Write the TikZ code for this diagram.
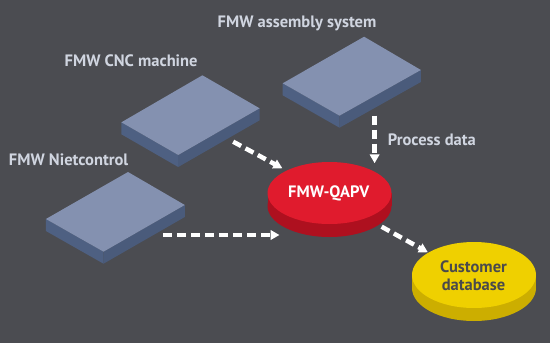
\documentclass[tikz,border=0pt]{standalone}
\usepackage{fontspec}
\setmainfont{PT Sans}
\usetikzlibrary{shapes.geometric,arrows.meta}
\definecolor{bg}{HTML}{4B4C51}
\definecolor{boxtop}{HTML}{8491B0}
\definecolor{boxside}{HTML}{4E6082}
\definecolor{boxside2}{HTML}{4A5B7B}
\definecolor{qred}{HTML}{E01B2D}
\definecolor{qredside}{HTML}{AE101F}
\definecolor{qyel}{HTML}{EFD000}
\definecolor{qyelside}{HTML}{CCAE00}
\definecolor{lbl}{HTML}{D0D5E0}
\definecolor{dbtext}{HTML}{4A4A4C}
\tikzset{
  lab/.style={text=lbl, font=\fontsize{16.5}{18}\selectfont\bfseries, inner sep=0pt, anchor=base west},
  flow/.style={draw=white, line width=4.5pt, dash pattern=on 9pt off 5pt,
    -{Triangle[length=9pt,width=9.5pt]}},
  disc/.style={ellipse, inner sep=0pt, minimum width=124pt, minimum height=62pt, align=center}
}
\newcommand{\drawslab}[5]{%
  \coordinate (#1-t) at #2;
  \coordinate (#1-r) at #3;
  \coordinate (#1-b) at #4;
  \coordinate (#1-l) at #5;
  \fill[boxside] (#1-l) -- (#1-b) -- ([yshift=-12pt]#1-b) -- ([yshift=-12pt]#1-l) -- cycle;
  \fill[boxside2] (#1-b) -- (#1-r) -- ([yshift=-12pt]#1-r) -- ([yshift=-12pt]#1-b) -- cycle;
  \fill[boxtop] (#1-t) -- (#1-r) -- (#1-b) -- (#1-l) -- cycle;
}
\begin{document}
\begin{tikzpicture}[x=1pt,y=-1pt]
\fill[bg] (0,0) rectangle (550,343);
\useasboundingbox (0,0) rectangle (550,343);

% slabs
\drawslab{asm}{(364.1,36.7)}{(420.9,70)}{(339.5,115.7)}{(282.7,83.3)}
\drawslab{cnc}{(202.4,75.3)}{(259.6,108.3)}{(178.2,155)}{(121.4,122.3)}
\drawslab{niet}{(128,172)}{(184.8,205)}{(103.5,251.7)}{(45.9,219)}

% labels
\node[lab] (lasm) at (217.5,27.7) {FMW assembly system};
\node[lab] (lcnc) at (64.5,66) {FMW CNC machine};
\node[lab] (lniet) at (8.8,165.3) {FMW Nietcontrol};
\node[lab] (lproc) at (387.6,145) {Process data};

% red disc
\fill[qredside] (329.5,206) ellipse [x radius=62pt, y radius=31pt];
\fill[qredside] (267.5,193) rectangle (391.5,206);
\node[disc, fill=qred] (qapv) at (329.5,193) {};
\node[text=white, font=\fontsize{16.5}{18}\selectfont\bfseries, inner sep=0pt, anchor=base] (tq) at (328.7,197.3) {FMW-QAPV};

% yellow disc
\fill[qyelside] (474,288) ellipse [x radius=62pt, y radius=33pt];
\fill[qyelside] (412,275) rectangle (536,288);
\node[disc, fill=qyel, minimum height=66pt] (cdb) at (474,275) {};
\node[text=dbtext, font=\fontsize{16.5}{18}\selectfont\bfseries, inner sep=0pt, anchor=base] (tc1) at (473.5,272.3) {Customer};
\node[text=dbtext, font=\fontsize{16.5}{18}\selectfont\bfseries, inner sep=0pt, anchor=base] (tc2) at (473.5,290) {database};

% arrows
\coordinate (a1s) at (233.2,141.7);
\coordinate (a1e) at (282.4,168.3);
\coordinate (a2s) at (374.6,115.7);
\coordinate (a2e) at (374.6,163.3);
\coordinate (a3s) at (163.1,235);
\coordinate (a3e) at (279.5,235);
\coordinate (a4s) at (381.6,226.7);
\coordinate (a4e) at (427.9,252.3);
\draw[flow] (a1s) -- (a1e);
\draw[flow] (a2s) -- (a2e);
\draw[flow] (a3s) -- (a3e);
\draw[flow] (a4s) -- (a4e);
\end{tikzpicture}
\end{document}
